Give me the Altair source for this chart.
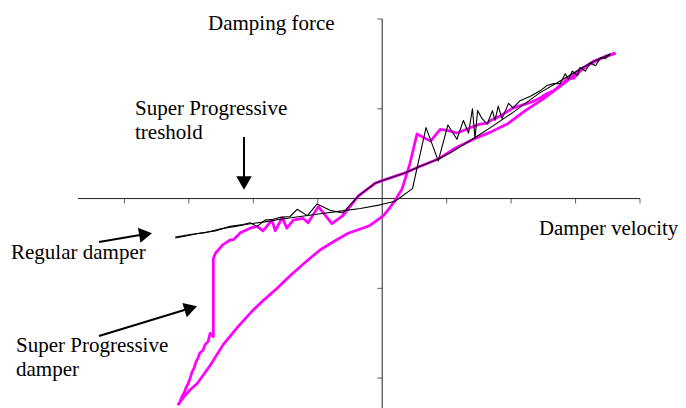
import altair as alt
import pandas as pd

# ---------------- data ----------------
# Regular damper, branch A (smooth on compression side, noisy on rebound side)
reg_a_x = [-3.21, -2.98, -2.75, -2.52, -2.28, -2.05, -1.82, -1.58, -1.27, -0.96, -0.65, -0.34, -0.03, 0.20,
           0.47, 0.68, 0.87, 1.02, 1.16, 1.26, 1.34, 1.40, 1.44, 1.48, 1.55, 1.63, 1.71, 1.75, 1.80, 1.86,
           1.96, 2.03, 2.14, 2.30, 2.45, 2.56, 2.66, 2.76, 2.84, 2.89, 2.95, 3.03, 3.07, 3.15, 3.23, 3.31,
           3.39, 3.46, 3.54]
reg_a_y = [-0.43, -0.40, -0.38, -0.34, -0.31, -0.28, -0.26, -0.23, -0.20, -0.17, -0.14, -0.11, -0.07, -0.03,
           0.11, 0.79, 0.42, 0.82, 0.66, 0.87, 0.73, 1.00, 0.67, 0.98, 0.89, 0.83, 0.98, 0.87, 1.03, 0.89,
           1.06, 1.01, 1.09, 1.14, 1.20, 1.26, 1.28, 1.28, 1.39, 1.33, 1.42, 1.37, 1.46, 1.42, 1.51, 1.48,
           1.57, 1.56, 1.61]

# Regular damper, branch B (smooth on rebound side, noisy on compression side)
reg_b_x = [3.54, 3.23, 2.76, 2.45, 2.03, 1.68, 1.44, 1.06, 0.87, 0.59, 0.33, 0.00, -0.11, -0.37, -0.61,
           -0.81, -1.01, -1.16, -1.32, -1.43, -1.58, -1.69, -1.82, -1.94, -2.05, -2.16, -2.36, -2.59, -2.86,
           -3.06, -3.21]
reg_b_y = [1.61, 1.51, 1.31, 1.18, 0.96, 0.79, 0.68, 0.51, 0.44, 0.36, 0.28, 0.20, 0.17, 0.03, -0.16,
           -0.13, -0.06, -0.19, -0.12, -0.20, -0.21, -0.23, -0.24, -0.31, -0.27, -0.29, -0.31, -0.36, -0.39,
           -0.42, -0.44]

# Super Progressive damper, branch A
sp_a_x = [-3.17, -3.09, -2.98, -2.87, -2.67, -2.47, -2.24, -2.00, -1.82, -1.63, -1.40, -1.16, -0.96, -0.73,
          -0.54, -0.34, -0.19, 0.02, 0.12, 0.20, 0.31, 0.43, 0.54, 0.75, 0.90, 1.01, 1.16, 1.34, 1.44, 1.52,
          1.63, 1.68, 1.83, 2.03, 2.30, 2.45, 2.56, 2.66, 2.76, 2.87, 2.97, 3.07, 3.18, 3.28, 3.39, 3.49, 3.62]
sp_a_y = [-2.30, -2.22, -2.13, -2.06, -1.86, -1.63, -1.43, -1.24, -1.12, -1.00, -0.84, -0.69, -0.57, -0.47,
          -0.39, -0.34, -0.30, -0.19, -0.10, -0.02, 0.11, 0.39, 0.72, 0.64, 0.77, 0.76, 0.73, 0.78, 0.81, 0.83,
          0.84, 0.87, 0.92, 1.01, 1.07, 1.12, 1.17, 1.20, 1.26, 1.33, 1.34, 1.42, 1.48, 1.53, 1.56, 1.59, 1.62]

# Super Progressive damper, branch B
sp_b_x = [3.62, 3.39, 3.07, 2.87, 2.50, 2.22, 1.94, 1.68, 1.44, 1.13, 0.87, 0.59, 0.33, 0.00, -0.11, -0.37,
          -0.61, -0.78, -0.99, -1.15, -1.23, -1.38, -1.48, -1.55, -1.66, -1.71, -1.85, -1.94, -2.05, -2.20,
          -2.31, -2.36, -2.48, -2.59, -2.62, -2.62, -2.67, -2.70, -2.75, -2.78, -2.83, -2.86, -2.89, -2.92,
          -2.95, -2.98, -3.01, -3.04, -3.07, -3.11, -3.14, -3.17]
sp_b_y = [1.62, 1.56, 1.44, 1.31, 1.11, 0.98, 0.83, 0.74, 0.67, 0.56, 0.44, 0.36, 0.28, 0.20, 0.17, 0.03,
          -0.19, -0.28, -0.09, -0.27, -0.22, -0.24, -0.33, -0.21, -0.36, -0.24, -0.36, -0.31, -0.33, -0.38,
          -0.46, -0.46, -0.52, -0.61, -0.67, -1.54, -1.50, -1.59, -1.63, -1.69, -1.72, -1.78, -1.82, -1.89,
          -1.93, -2.00, -2.06, -2.10, -2.16, -2.21, -2.27, -2.30]

x_ticks = [-4, -3, -2, -1, 1, 2, 3, 4]
y_ticks = [-2, -1, 1, 2]
x_min, x_max = -4.72, 4.0
y_min, y_max = -2.333, 2.0

# ---------------- chart ----------------
SERIF = "Liberation Serif"
MAGENTA = "#FF00FF"
AXIS = "#222222"

xs = alt.Scale(domain=[x_min, x_max], nice=False, zero=False)
ys = alt.Scale(domain=[y_min, y_max], nice=False, zero=False)


def frame(xv, yv, branch):
    return pd.DataFrame({"v": xv, "f": yv, "branch": branch, "i": list(range(len(xv)))})


def lines(df, color, width):
    return alt.Chart(df).mark_line(color=color, strokeWidth=width, strokeJoin="round").encode(
        x=alt.X("v:Q", scale=xs, axis=None),
        y=alt.Y("f:Q", scale=ys, axis=None),
        detail="branch:N",
        order="i:Q",
    )


sp_df = pd.concat([frame(sp_a_x, sp_a_y, "a"), frame(sp_b_x, sp_b_y, "b")])
reg_df = pd.concat([frame(reg_a_x, reg_a_y, "a"), frame(reg_b_x, reg_b_y, "b")])

x_axis = alt.Chart(pd.DataFrame({"x0": [x_min], "x1": [x_max], "y0": [0]})).mark_rule(
    color=AXIS, strokeWidth=1).encode(
    x=alt.X("x0:Q", scale=xs, axis=None), x2="x1:Q", y=alt.Y("y0:Q", scale=ys, axis=None))
y_axis = alt.Chart(pd.DataFrame({"y0": [y_min], "y1": [y_max], "x0": [0]})).mark_rule(
    color=AXIS, strokeWidth=1).encode(
    y=alt.Y("y0:Q", scale=ys, axis=None), y2="y1:Q", x=alt.X("x0:Q", scale=xs, axis=None))

x_tick_marks = alt.Chart(pd.DataFrame({"t": x_ticks, "z": [0] * len(x_ticks)})).mark_tick(
    orient="vertical", size=5, thickness=1, yOffset=2.5, color=AXIS).encode(
    x=alt.X("t:Q", scale=xs, axis=None), y=alt.Y("z:Q", scale=ys, axis=None))
y_tick_marks = alt.Chart(pd.DataFrame({"t": y_ticks, "z": [0] * len(y_ticks)})).mark_tick(
    orient="horizontal", size=5, thickness=1, xOffset=-2.5, color=AXIS).encode(
    y=alt.Y("t:Q", scale=ys, axis=None), x=alt.X("z:Q", scale=xs, axis=None))

one = pd.DataFrame({"a": [0]})


def label(txt, px, py, size=21):
    return alt.Chart(one).mark_text(
        text=txt, align="left", baseline="alphabetic", font=SERIF, fontSize=size,
        lineHeight=24, color="black").encode(x=alt.value(px), y=alt.value(py))


def shaft(px1, py1, px2, py2):
    return alt.Chart(one).mark_rule(color="black", strokeWidth=2).encode(
        x=alt.value(px1), y=alt.value(py1), x2=alt.value(px2), y2=alt.value(py2))


def head(px, py, ang, size=225):
    return alt.Chart(one).mark_point(
        shape="triangle-right", filled=True, color="black", opacity=1, size=size,
        angle=ang, strokeWidth=0).encode(x=alt.value(px), y=alt.value(py))


annotations = [
    label("Damping force", 130, 11),
    label(["Super Progressive", "treshold"], 57, 96),
    label("Damper velocity", 461, 216, 20.8),
    label("Regular damper", -67, 240),
    label(["Super Progressive", "damper"], -62, 333),
    shaft(166, 118, 166, 158), head(166, 164, 90, 240),
    shaft(21, 223, 62, 216), head(67.6, 215.2, 350.5),
    shaft(21, 317, 108, 290.5), head(112.8, 289.2, 343.1),
]

chart = alt.layer(
    x_axis, y_axis, x_tick_marks, y_tick_marks,
    lines(sp_df, MAGENTA, 2.75),
    lines(reg_df, "black", 1.1),
    *annotations,
).properties(
    width=562, height=389,
    autosize=alt.AutoSizeParams(type="none"),
    padding={"left": 70, "top": 11, "right": 38, "bottom": 0},
    background="white",
).configure_view(stroke=None)

chart.save("out.html", embed_options={"renderer": "svg", "actions": False})
